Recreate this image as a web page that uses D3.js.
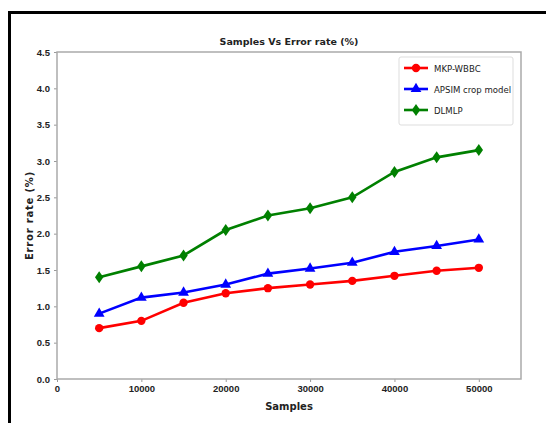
<!DOCTYPE html>
<html><head><meta charset="utf-8">
<script src="https://cdn.jsdelivr.net/npm/d3@7"></script>
<style>body{margin:0;background:#fff;}svg{display:block;font-family:"DejaVu Sans",sans-serif;}</style>
</head><body>
<script>
const samples = [5000,10000,15000,20000,25000,30000,35000,40000,45000,50000];
const mkpWbbc = [0.70,0.80,1.05,1.18,1.25,1.30,1.35,1.42,1.49,1.53];
const apsim   = [0.90,1.12,1.19,1.30,1.45,1.52,1.60,1.75,1.83,1.92];
const dlmlp   = [1.40,1.55,1.70,2.05,2.25,2.35,2.50,2.85,3.05,3.15];
const seriesNames = ["MKP-WBBC","APSIM crop model","DLMLP"];
const xTicks = [0,10000,20000,30000,40000,50000];
const yTicks = [0,0.5,1,1.5,2,2.5,3,3.5,4,4.5];

const W=546,H=423;
const svg=d3.select("body").append("svg").attr("width",W).attr("height",H);
// outer frame
svg.append("path").attr("d",`M9.5,${H} L9.5,12.5 L${W},12.5`).attr("fill","none").attr("stroke","#000").attr("stroke-width",3);

const m={l:57,t:52,r:521,b:379};
const x=d3.scaleLinear().domain([0,55000]).range([m.l,m.r]);
const y=d3.scaleLinear().domain([0,4.5]).range([m.b,m.t]);

const series=[
 {name:seriesNames[0],vals:mkpWbbc,color:"#ff0000",sym:d3.symbolCircle,size:55},
 {name:seriesNames[1],vals:apsim,color:"#0000ff",sym:d3.symbolTriangle,size:50},
 {name:seriesNames[2],vals:dlmlp,color:"#008000",sym:"diamond",size:0}
];
function marker(g,s,cx,cy){
  if(s.sym==="diamond"){
    g.append("path").attr("d",`M${cx},${cy-6} L${cx+4.2},${cy} L${cx},${cy+6} L${cx-4.2},${cy} Z`).attr("fill",s.color);
  } else {
    g.append("path").attr("d",d3.symbol(s.sym,s.size)()).attr("transform",`translate(${cx},${cy})`).attr("fill",s.color);
  }
}

// axes
const xa=svg.append("g").attr("transform",`translate(0,${m.b})`).call(d3.axisBottom(x).tickValues(xTicks).tickFormat(d3.format("d")).tickSize(3));
const ya=svg.append("g").attr("transform",`translate(${m.l},0)`).call(d3.axisLeft(y).tickValues(yTicks).tickFormat(d3.format(".1f")).tickSize(3));
[xa,ya].forEach(a=>{a.select(".domain").remove();a.selectAll("line").attr("stroke","#999");a.selectAll("text").attr("fill","#222").attr("font-size",9.5).attr("font-weight","bold");});
ya.selectAll("text").attr("dx",-1);
svg.append("rect").attr("x",m.l).attr("y",m.t).attr("width",m.r-m.l).attr("height",m.b-m.t).attr("fill","none").attr("stroke","#aaa").attr("stroke-width",1.5);

// lines
const line=d3.line().x((d,i)=>x(samples[i])).y(d=>y(d));
series.forEach(s=>{
  svg.append("path").datum(s.vals).attr("d",line).attr("fill","none").attr("stroke",s.color).attr("stroke-width",2.6);
  const g=svg.append("g");
  s.vals.forEach((v,i)=>marker(g,s,x(samples[i]),y(v)));
});

// titles
svg.append("text").attr("x",(m.l+m.r)/2).attr("y",45).attr("text-anchor","middle").attr("font-size",9.5).attr("font-weight","bold").attr("fill","#222").text("Samples Vs Error rate (%)");
svg.append("text").attr("x",(m.l+m.r)/2).attr("y",410).attr("text-anchor","middle").attr("font-size",10).attr("font-weight","bold").attr("fill","#222").text("Samples");
svg.append("text").attr("transform",`translate(33,${(m.t+m.b)/2}) rotate(-90)`).attr("text-anchor","middle").attr("font-size",10).attr("font-weight","bold").attr("letter-spacing",0.8).attr("fill","#222").text("Error rate (%)");

// legend
const lg=svg.append("g");
lg.append("rect").attr("x",399).attr("y",57).attr("width",114).attr("height",68).attr("fill","#fff").attr("stroke","#ddd").attr("rx",2);
series.forEach((s,i)=>{
  const yy=68+i*21;
  lg.append("line").attr("x1",404).attr("x2",428).attr("y1",yy).attr("y2",yy).attr("stroke",s.color).attr("stroke-width",2.6);
  marker(lg,s,416,yy);
  lg.append("text").attr("x",434).attr("y",yy+3.5).attr("font-size",9.5).attr("font-family","'Liberation Sans Narrow','DejaVu Sans Condensed',sans-serif").attr("fill","#222").text(s.name);
});
</script>
</body></html>
